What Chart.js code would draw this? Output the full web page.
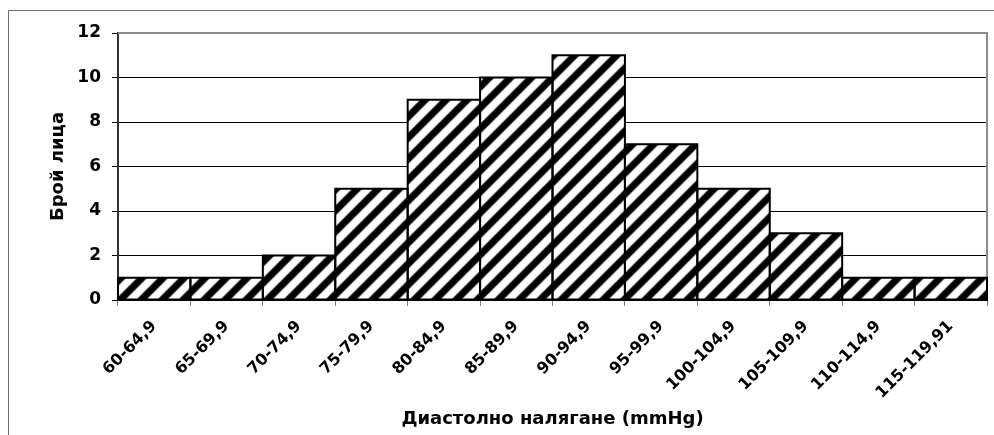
<!DOCTYPE html>
<html><head><meta charset="utf-8">
<script src="https://cdn.jsdelivr.net/npm/chart.js@4.4.0/dist/chart.umd.min.js"></script>
<style>html,body{margin:0;padding:0;background:#fff;} #wrap{width:994px;height:435px;position:relative;}</style>
</head><body><div id="wrap"><canvas id="c" width="994" height="435"></canvas></div>
<script>
const categories = ['60-64,9','65-69,9','70-74,9','75-79,9','80-84,9','85-89,9','90-94,9','95-99,9','100-104,9','105-109,9','110-114,9','115-119,91'];
const counts = [1,1,2,5,9,10,11,7,5,3,1,1];
const yTicks = [0,2,4,6,8,10,12];
const xTitle = 'Диастолно налягане (mmHg)';
const yTitle = 'Брой лица';

const FONT = "'DejaVu Sans', sans-serif";

function makeHatch(P){
  const cv = document.createElement('canvas');
  cv.width = P; cv.height = P;
  const cx = cv.getContext('2d');
  const img = cx.createImageData(P, P);
  for (let y = 0; y < P; y++) {
    for (let x = 0; x < P; x++) {
      const ph = ((x + 0.5) + (y + 0.5)) / P;
      const t = Math.cos(2 * Math.PI * ph);
      let g = 0.6 - 1.4 * t;
      g = Math.max(0, Math.min(1, g));
      const v = Math.round(g * 255);
      const i = (y * P + x) * 4;
      img.data[i] = v; img.data[i+1] = v; img.data[i+2] = v; img.data[i+3] = 255;
    }
  }
  cx.putImageData(img, 0, 0);
  return cx.createPattern(cv, 'repeat');
}

const ctx = document.getElementById('c').getContext('2d');
const hatch = makeHatch(21);

const framePlugin = {
  id: 'frame',
  beforeDatasetsDraw(chart) {
    const {ctx, chartArea: a} = chart;
    ctx.save();
    ctx.strokeStyle = '#8c8c8c';
    ctx.lineWidth = 2;
    ctx.beginPath();
    ctx.moveTo(a.left, a.top);
    ctx.lineTo(a.right, a.top);
    ctx.lineTo(a.right, a.bottom);
    ctx.stroke();
    ctx.restore();
  },
  afterDatasetsDraw(chart) {
    const {ctx} = chart;
    const meta = chart.getDatasetMeta(0);
    ctx.save();
    ctx.strokeStyle = '#000';
    ctx.lineWidth = 2;
    meta.data.forEach(el => {
      const p = el.getProps(['x','y','base','width'], true);
      ctx.strokeRect(p.x - p.width/2, p.y, p.width, p.base - p.y);
    });
    ctx.restore();
  },
  afterDraw(chart) {
    const {ctx} = chart;
    ctx.save();
    ctx.strokeStyle = '#6e6e6e';
    ctx.lineWidth = 1;
    ctx.beginPath();
    ctx.moveTo(994, 10.5);
    ctx.lineTo(8.5, 10.5);
    ctx.lineTo(8.5, 435);
    ctx.stroke();
    ctx.restore();
  }
};

new Chart(ctx, {
  type: 'bar',
  data: {
    labels: categories,
    datasets: [{
      data: counts,
      backgroundColor: hatch,
      borderWidth: 0,
      barPercentage: 1,
      categoryPercentage: 1
    }]
  },
  options: {
    responsive: false,
    devicePixelRatio: 1,
    animation: false,
    layout: { padding: { top: 33, right: 7, bottom: 4, left: 44 } },
    plugins: { legend: { display: false }, tooltip: { enabled: false } },
    scales: {
      x: {
        offset: true,
        grid: { display: true, drawOnChartArea: false, drawTicks: true, tickLength: 6, color: '#808080', offset: true },
        border: { display: true, color: '#000', width: 2 },
        ticks: { autoSkip: false, minRotation: 45, maxRotation: 45, padding: 11, color: '#000', font: { family: FONT, weight: 'bold', size: 16 } },
        title: { display: true, text: xTitle, color: '#000', padding: { top: 0, bottom: 1 }, font: { family: FONT, weight: 'bold', size: 18 } },
        afterFit(scale) { scale.height = 131; }
      },
      y: {
        min: 0, max: 12,
        afterBuildTicks(scale) { scale.ticks = yTicks.map(v => ({ value: v })); },
        grid: { color: '#000', lineWidth: 1, drawTicks: true, tickLength: 6, tickColor: '#000' },
        border: { display: true, color: '#333', width: 2 },
        ticks: { padding: 11, color: '#000', font: { family: FONT, weight: 'bold', size: 17 } },
        title: { display: true, text: yTitle, color: '#000', padding: { top: 4, bottom: 0 }, font: { family: FONT, weight: 'bold', size: 18 } },
        afterFit(scale) { scale.width = 74; }
      }
    }
  },
  plugins: [framePlugin]
});
</script>
</body></html>
